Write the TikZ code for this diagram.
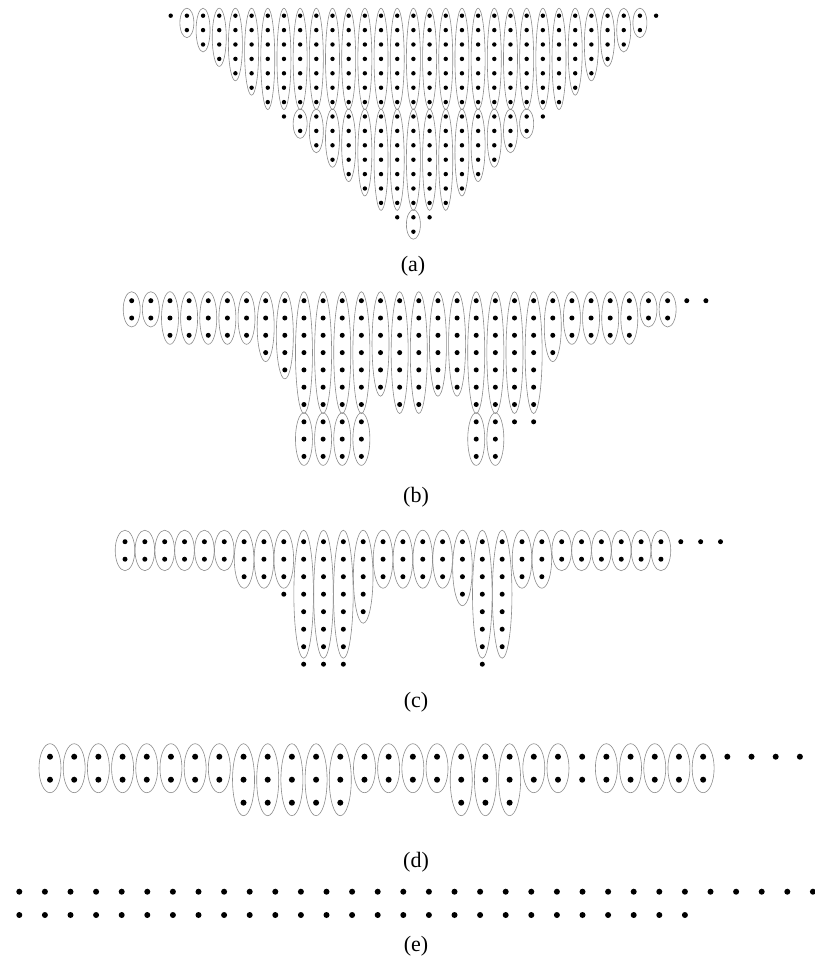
\documentclass[tikz,border=0pt]{standalone}
\usepackage{fontspec}
\setmainfont{Liberation Serif}
\usepackage{tikz}
\usetikzlibrary{shapes.geometric}
\definecolor{ringgray}{RGB}{140,140,140}
\tikzset{
  bead/.style={circle, fill=black, draw=none, inner sep=0pt, minimum size={\DS*1pt}},
  ring/.style={ellipse, draw=ringgray, line width=0.6pt, inner sep=0pt},
  tag/.style={font=\fontsize{22}{24}\selectfont, inner sep=0pt}
}
% panel parameters: name, x0, dx, y0, dy, ring x-radius, ring overhang, dot size
\newcommand{\setpanel}[8]{\def\pn{#1}\def\XO{#2}\def\DX{#3}\def\YO{#4}\def\DY{#5}\def\RX{#6}\def\EY{#7}\def\DS{#8}}
% one column piece: column, first row, last row
\newcommand{\grp}[3]{%
  \foreach \r in {#2,...,#3}{
    \node[bead] (\pn-#1-\r) at ({\XO+#1*\DX},{\YO+\r*\DY}) {};
  }
  \ifnum#2<#3\relax
    \node[ring, minimum width={2*\RX*1pt}, minimum height={2*((#3-#2)*\DY/2+\EY)*1pt}]
      (r\pn-#1-#2) at ({\XO+#1*\DX},{\YO+(#2+#3)/2*\DY}) {};
  \fi}

\begin{document}
\begin{tikzpicture}[x=1pt, y=-1pt]
  \useasboundingbox (0,0) rectangle (814,966);

  % Panel (a)
  \setpanel{a}{170.7}{16.18}{15.7}{14.4}{7}{7.5}{4.4}
  \foreach \c in {0,...,30}{
    \pgfmathtruncatemacro\n{min(\c,30-\c,6)}
    \grp{\c}{0}{\n}
  }
  \foreach \c in {7,...,23}{
    \pgfmathtruncatemacro\n{7+min(\c-7,23-\c,6)}
    \grp{\c}{7}{\n}
  }
  \grp{14}{14}{14}
  \grp{15}{14}{15}
  \grp{16}{14}{14}
  \node[tag] (la) at (413,266) {(a)};

  % Panel (b)
  \setpanel{b}{131.7}{19.14}{300.7}{17.3}{8.5}{9}{5}
  \foreach \c/\fr/\lr in {0/0/1, 1/0/1, 2/0/2, 3/0/2, 4/0/2, 5/0/2, 6/0/2, 7/0/3, 8/0/4,
      9/0/6, 9/7/9, 10/0/6, 10/7/9, 11/0/6, 11/7/9, 12/0/6, 12/7/9, 13/0/5,
      14/0/6, 15/0/6, 16/0/5, 17/0/5, 18/0/6, 18/7/9, 19/0/6, 19/7/9,
      20/0/6, 20/7/7, 21/0/6, 21/7/7, 22/0/3, 23/0/2, 24/0/2, 25/0/2, 26/0/2,
      27/0/1, 28/0/1, 29/0/0, 30/0/0}{
    \grp{\c}{\fr}{\lr}
  }
  \node[tag] (lb) at (416,497) {(b)};

  % Panel (c)
  \setpanel{c}{125}{19.85}{541.7}{17.5}{9.8}{11.5}{5}
  \foreach \c/\fr/\lr in {0/0/1, 1/0/1, 2/0/1, 3/0/1, 4/0/1, 5/0/1, 6/0/2, 7/0/2,
      8/0/2, 8/3/3, 9/0/6, 9/7/7, 10/0/6, 10/7/7, 11/0/6, 11/7/7, 12/0/4,
      13/0/2, 14/0/2, 15/0/2, 16/0/2, 17/0/3, 18/0/6, 18/7/7, 19/0/6,
      20/0/2, 21/0/2, 22/0/1, 23/0/1, 24/0/1, 25/0/1, 26/0/1, 27/0/1,
      28/0/0, 29/0/0, 30/0/0}{
    \grp{\c}{\fr}{\lr}
  }
  \node[tag] (lc) at (416,702) {(c)};

  % Panel (d)
  \setpanel{d}{50}{24.19}{756.7}{23}{11}{13}{6}
  \foreach \c/\fr/\lr in {0/0/1, 1/0/1, 2/0/1, 3/0/1, 4/0/1, 5/0/1, 6/0/1, 7/0/1,
      8/0/2, 9/0/2, 10/0/2, 11/0/2, 12/0/2, 13/0/1, 14/0/1, 15/0/1, 16/0/1,
      17/0/2, 18/0/2, 19/0/2, 20/0/1, 21/0/1, 22/0/0, 22/1/1,
      23/0/1, 24/0/1, 25/0/1, 26/0/1, 27/0/1, 28/0/0, 29/0/0, 30/0/0, 31/0/0}{
    \grp{\c}{\fr}{\lr}
  }
  \node[tag] (ld) at (416,862) {(d)};

  % Panel (e)
  \setpanel{e}{19.3}{25.6}{891.7}{23.3}{0}{0}{6}
  \foreach \c in {0,...,31}{\grp{\c}{0}{0}}
  \foreach \c in {0,...,26}{\grp{\c}{1}{1}}
  \node[tag] (le) at (416,946) {(e)};
\end{tikzpicture}
\end{document}
